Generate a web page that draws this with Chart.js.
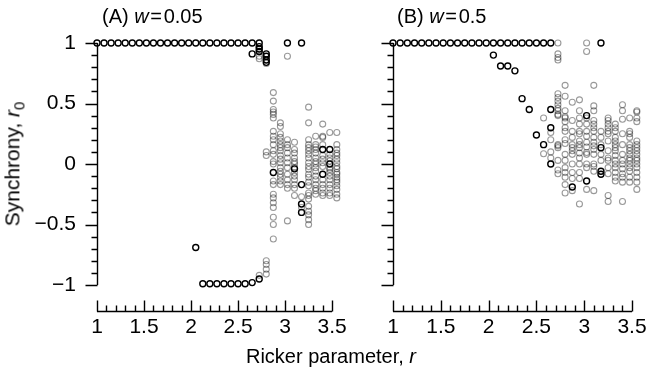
<!DOCTYPE html>
<html>
<head>
<meta charset="utf-8">
<script src="https://cdn.jsdelivr.net/npm/chart.js@4"></script>
<style>
  body { margin: 0; background: #fff; font-family: "Liberation Sans", Arial, sans-serif; }
  #wrap { position: relative; width: 651px; height: 371px; overflow: hidden; }
  canvas { position: absolute; top: 0; }
  .lbl { position: absolute; color: #000; white-space: nowrap; }
</style>
</head>
<body>
<div id="wrap">
  <canvas id="chartA" width="350" height="371" style="left:0"></canvas>
  <canvas id="chartB" width="301" height="371" style="left:350px"></canvas>
  <div class="lbl" style="left:102px; top:5px; font-size:20px">(A) <i>w</i>&#8202;=&#8202;0.05</div>
  <div class="lbl" style="left:397px; top:5px; font-size:20px">(B) <i>w</i>&#8202;=&#8202;0.5</div>
  <div class="lbl" style="left:14px; top:164px; font-size:21px; transform: translate(-50%,-50%) rotate(-90deg)">Synchrony, <i>r</i><sub style="font-size:15px">0</sub></div>
  <div class="lbl" style="left:331px; top:356px; font-size:20px; transform: translate(-50%,-50%)">Ricker parameter, <i>r</i></div>
</div>
<script>
// axis ticks
const xTickLabels = [1, 1.5, 2, 2.5, 3, 3.5];
const yTickLabels = [-1, -0.5, 0, 0.5, 1];

// Ricker parameter values used in the runs
const rGrid = [1, 1.075, 1.15, 1.225, 1.3, 1.375, 1.45, 1.525, 1.6, 1.675, 1.75, 1.825,
  1.9, 1.975, 2.05, 2.125, 2.2, 2.275, 2.35, 2.425, 2.5, 2.575, 2.65, 2.725, 2.8,
  2.875, 2.95, 3.025, 3.1, 3.175, 3.25, 3.325, 3.4, 3.475, 3.55];

// (A) w = 0.05 -- black: replicates that coincide, grey: single replicates
const aBlack = [
  [1, [1]], [1.075, [1]], [1.15, [1]], [1.225, [1]], [1.3, [1]], [1.375, [1]],
  [1.45, [1]], [1.525, [1]], [1.6, [1]], [1.675, [1]], [1.75, [1]], [1.825, [1]],
  [1.9, [1]], [1.975, [1]], [2.05, [1, -0.69]], [2.125, [1, -0.99]], [2.2, [1, -0.99]],
  [2.275, [1, -0.99]], [2.35, [1, -0.99]], [2.425, [1, -0.99]], [2.5, [1, -0.99]],
  [2.575, [1, -0.99]], [2.65, [1, 0.91, -0.98]], [2.725, [1, 0.97, 0.95, 0.93, -0.95]],
  [2.8, [0.91, 0.89, 0.86, 0.84]], [2.875, [-0.07]], [3.025, [1]], [3.1, [-0.04]],
  [3.175, [1, -0.17, -0.33, -0.4]], [3.4, [0.12, -0.085]], [3.475, [0.12, 0]]
];
const aGrey = [
  [2.725, [0.89, 0.87, -0.92]],
  [2.8, [0.83, 0.1, 0.07, -0.8, -0.83, -0.87, -0.91]],
  [2.875, [0.59, 0.52, 0.45, 0.43, 0.41, 0.38, 0.27, 0.23, 0.2, 0.16, 0.11, 0.08, 0.02, 0,
    -0.14, -0.17, -0.25, -0.28, -0.32, -0.36, -0.44, -0.5, -0.62]],
  [2.95, [0.34, 0.31, 0.25, 0.22, 0.19, 0.16, 0.135, 0.11, 0.07, 0.04, 0.01, -0.03, -0.06,
    -0.085, -0.11, -0.14, -0.17]],
  [3.025, [0.89, 0.2, 0.16, 0.135, 0.09, 0.05, 0.01, -0.03, -0.085, -0.13, -0.17, -0.2, -0.47]],
  [3.1, [0.18, 0.12, 0.09, 0.05, 0.02, 0, -0.03, -0.07, -0.1, -0.13, -0.17, -0.2, -0.26]],
  [3.175, [-0.27, -0.36]],
  [3.25, [0.47, 0.34, 0.2, 0.16, 0.135, 0.11, 0.08, 0.05, 0.01, -0.02, -0.045, -0.085, -0.11,
    -0.15, -0.18, -0.24, -0.26, -0.29, -0.35, -0.39, -0.42, -0.46, -0.5]],
  [3.325, [0.23, 0.16, 0.14, 0.12, 0.09, 0.05, 0.02, 0, -0.03, -0.06, -0.1, -0.13, -0.17,
    -0.2, -0.22, -0.25]],
  [3.4, [0.33, 0.23, 0.22, 0.16, 0.07, 0.04, 0.01, -0.02, -0.13, -0.17, -0.2, -0.24, -0.26]],
  [3.475, [0.26, 0.08, 0.05, 0.025, -0.03, -0.045, -0.07, -0.1, -0.13, -0.17, -0.2, -0.24, -0.26]],
  [3.55, [0.26, 0.16, 0.12, 0.09, 0.07, 0.04, 0.01, -0.02, -0.04, -0.07, -0.085, -0.11, -0.13,
    -0.15, -0.18, -0.21, -0.25, -0.28]]
];

// (B) w = 0.5
const bBlack = [
  [1, [1]], [1.075, [1]], [1.15, [1]], [1.225, [1]], [1.3, [1]], [1.375, [1]],
  [1.45, [1]], [1.525, [1]], [1.6, [1]], [1.675, [1]], [1.75, [1]], [1.825, [1]],
  [1.9, [1]], [1.975, [1]], [2.05, [1, 0.9]], [2.125, [1, 0.81]], [2.2, [1, 0.81]],
  [2.275, [1, 0.77]], [2.35, [1, 0.54]], [2.425, [1, 0.45]], [2.5, [1, 0.24]],
  [2.575, [1, 0.16]], [2.65, [1, 0.45, 0.3, 0]], [2.875, [-0.19]], [3.025, [0.4, -0.14]],
  [3.175, [1, 0.135, -0.06, -0.085]]
];
const bGrey = [
  [2.575, [0.38, 0.085]],
  [2.65, [0.26, 0.2, 0.1, 0.05]],
  [2.725, [1, 0.91, 0.88, 0.86, 0.58, 0.55, 0.52, 0.49, 0.46, 0.44, 0.41, 0.4, 0.16, 0.15,
    0.135, 0.03, -0.05, -0.08]],
  [2.8, [0.65, 0.56, 0.44, 0.39, 0.38, 0.35, 0.3, 0.27, 0.2, 0.17, 0.08, 0.03, -0.03, -0.07,
    -0.11, -0.17, -0.24]],
  [2.875, [0.51, 0.36, 0.27, 0.22, 0.16, 0.135, 0.11, 0.08, 0, -0.07, -0.12, -0.22]],
  [2.95, [0.53, 0.44, 0.38, 0.33, 0.27, 0.25, 0.19, 0.16, 0.135, 0.09, 0.05, 0, -0.07, -0.12, -0.33]],
  [3.025, [1, 0.93, 0.38, 0.33, 0.27, 0.23, 0.18, 0.14, 0.095, 0.08, 0, -0.03, -0.21]],
  [3.1, [0.65, 0.48, 0.44, 0.36, 0.33, 0.3, 0.27, 0.22, 0.18, 0.15, 0.12, 0.08, 0, -0.02,
    -0.06, -0.22]],
  [3.175, [0.27, 0.22, 0.16, 0.08, 0.03]],
  [3.25, [0.38, 0.36, 0.33, 0.3, 0.27, 0.25, 0.19, 0.11, 0.05, 0.03, -0.03, -0.08, -0.26, -0.31]],
  [3.325, [0.33, 0.3, 0.27, 0.22, 0.19, 0.16, 0.135, 0.11, 0.07, 0.03, 0, -0.03, -0.07,
    -0.11, -0.14]],
  [3.4, [0.49, 0.44, 0.37, 0.25, 0.16, 0.08, 0.03, 0, -0.04, -0.08, -0.11, -0.15, -0.31]],
  [3.475, [0.38, 0.27, 0.25, 0.22, 0.16, 0.135, 0.11, 0.08, 0.05, 0.03, 0, -0.03, -0.06,
    -0.11, -0.15]],
  [3.55, [0.44, 0.43, 0.38, 0.35, 0.19, 0.16, 0.135, 0.11, 0.08, 0.05, 0.03, 0, -0.03, -0.07,
    -0.11, -0.15, -0.21]]
];

Chart.defaults.font.family = '"Liberation Sans", Arial, sans-serif';
Chart.defaults.color = '#000';

// columns -> {x, y} points
function toPoints(cols) {
  const pts = [];
  cols.forEach(([r, ys]) => ys.forEach((v) => pts.push({ x: r, y: v })));
  return pts;
}

function fmt(v) {
  return v < 0 ? "\u2212" + Math.abs(v) : String(v);
}

// R-style detached axes: y line from -1 to 1, x line from 1 to 3.5, ticks every 0.1
const rAxes = {
  id: "rAxes",
  beforeDatasetsDraw(chart) {
    const { ctx, chartArea, scales } = chart;
    const xs = scales.x, ys = scales.y;
    const ax = Math.round(xs.getPixelForValue(1)) + 0.5;
    const by = Math.round(chartArea.bottom) - 0.5;
    ctx.save();
    ctx.strokeStyle = "#000";
    ctx.lineWidth = 1.4;
    ctx.beginPath();
    ctx.moveTo(ax, ys.getPixelForValue(-1));
    ctx.lineTo(ax, ys.getPixelForValue(1));
    for (let i = 0; i <= 20; i++) {
      const v = -1 + i * 0.1;
      const py = Math.round(ys.getPixelForValue(v)) + 0.5;
      ctx.moveTo(ax, py);
      ctx.lineTo(ax - (i % 5 === 0 ? 12 : 6), py);
    }
    ctx.moveTo(xs.getPixelForValue(1), by);
    ctx.lineTo(xs.getPixelForValue(3.5), by);
    for (let i = 0; i <= 25; i++) {
      const v = 1 + i * 0.1;
      const px = Math.round(xs.getPixelForValue(v)) + 0.5;
      ctx.moveTo(px, by);
      ctx.lineTo(px, by - (i % 5 === 0 ? 11 : 6));
    }
    ctx.stroke();
    ctx.restore();
  },
};

function makeChart(id, black, grey, showY, yWidth, padRight) {
  return new Chart(document.getElementById(id), {
    type: "scatter",
    data: {
      datasets: [
        {
          data: toPoints(grey),
          borderColor: "rgba(0,0,0,0.4)",
          backgroundColor: "rgba(0,0,0,0)",
          borderWidth: 1.1,
          pointRadius: 3,
          clip: false,
        },
        {
          data: toPoints(black),
          borderColor: "#000",
          backgroundColor: "rgba(0,0,0,0)",
          borderWidth: 1.4,
          pointRadius: 3,
          clip: false,
        },
      ],
    },
    options: {
      responsive: false,
      animation: false,
      events: [],
      layout: { padding: { top: 43, right: padRight, bottom: 0, left: 0 } },
      plugins: { legend: { display: false }, tooltip: { enabled: false } },
      scales: {
        x: {
          type: "linear",
          min: 1,
          max: 3.6,
          grid: { display: false, drawTicks: false },
          border: { display: false },
          afterBuildTicks: (s) => { s.ticks = xTickLabels.map((v) => ({ value: v })); },
          afterFit: (s) => { s.height = 59; },
          ticks: { font: { size: 21 }, padding: 3, maxRotation: 0, autoSkip: false, callback: (v) => fmt(v) },
        },
        y: {
          type: "linear",
          min: -1.223,
          max: 1,
          grid: { display: false, drawTicks: false },
          border: { display: false },
          afterBuildTicks: (s) => { s.ticks = yTickLabels.map((v) => ({ value: v })); },
          afterFit: (s) => { s.width = yWidth; },
          ticks: { display: showY, font: { size: 21 }, padding: 21, callback: (v) => fmt(v) },
        },
      },
    },
    plugins: [rAxes],
  });
}

makeChart("chartA", aBlack, aGrey, true, 97, 7.6);
makeChart("chartB", bBlack, bGrey, false, 43, 9.4);
</script>
</body>
</html>
